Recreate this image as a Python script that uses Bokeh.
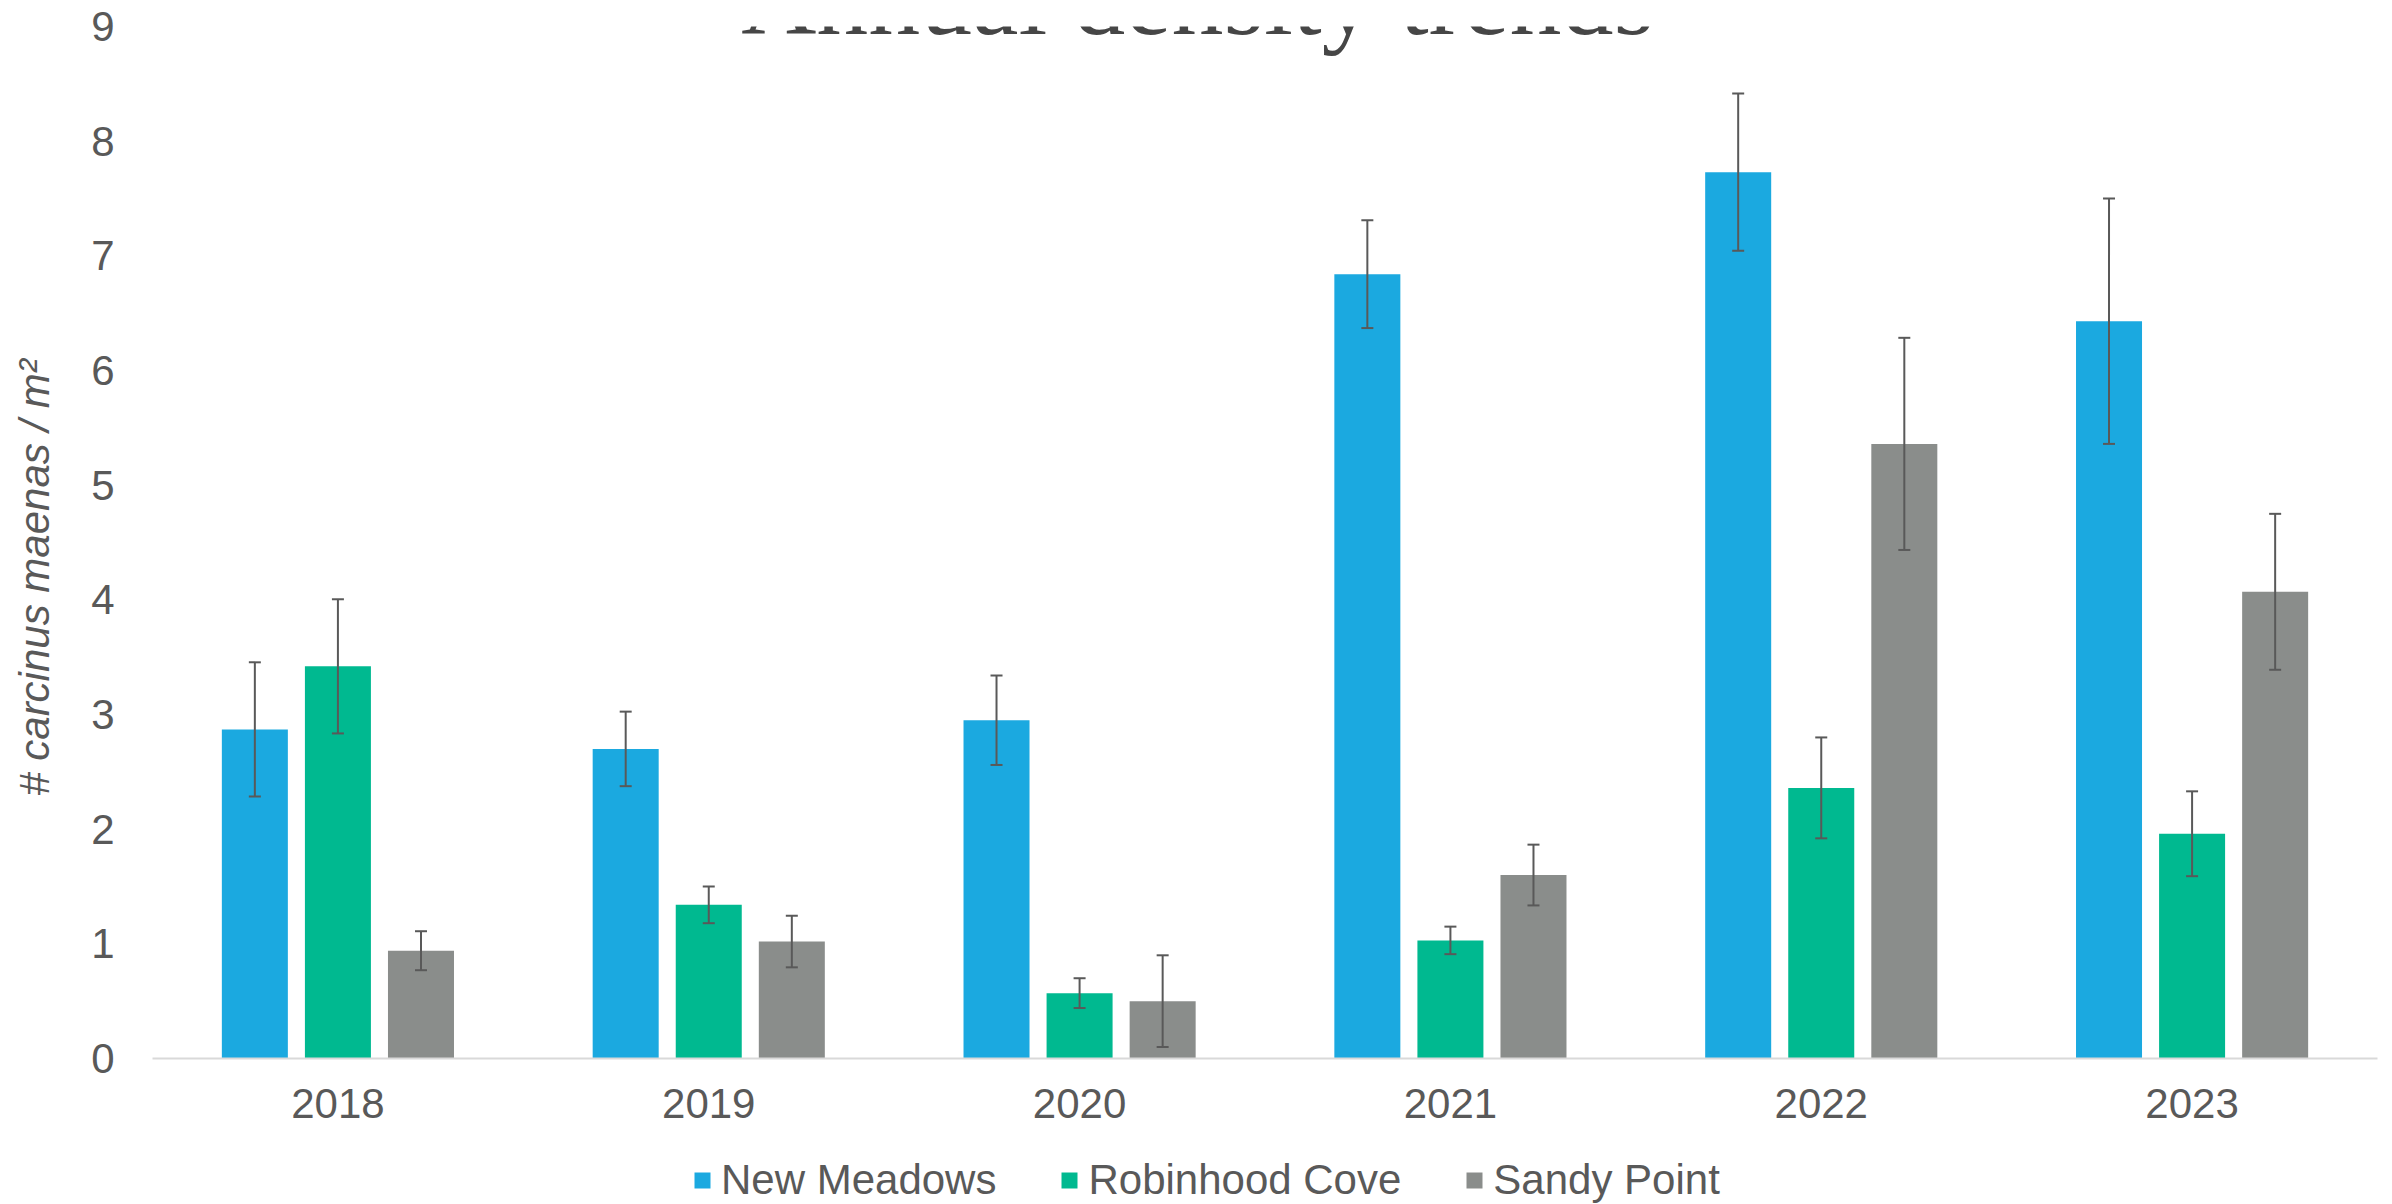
from bokeh.plotting import figure
from bokeh.layouts import column
from bokeh.models import (ColumnDataSource, FactorRange, Range1d, Whisker, TeeHead,
                          Legend, LegendItem, Label, FixedTicker)
from bokeh.transform import dodge
from bokeh.embed import file_html
from bokeh.resources import INLINE

# ---- data ----
years = ["2018", "2019", "2020", "2021", "2022", "2023"]
sites = ["New Meadows", "Robinhood Cove", "Sandy Point"]
new_meadows = [2.87, 2.70, 2.95, 6.84, 7.73, 6.43]
new_meadows_err = [0.585, 0.325, 0.39, 0.47, 0.685, 1.07]
robinhood_cove = [3.42, 1.34, 0.57, 1.03, 2.36, 1.96]
robinhood_cove_err = [0.585, 0.16, 0.13, 0.12, 0.44, 0.37]
sandy_point = [0.94, 1.02, 0.50, 1.60, 5.36, 4.07]
sandy_point_err = [0.17, 0.225, 0.40, 0.265, 0.925, 0.68]
y_ticks = [0, 1, 2, 3, 4, 5, 6, 7, 8, 9]
title_text = "Annual density trends"
y_label = "# carcinus maenas / m\u00b2"

colors = ["#1BA9E0", "#00B990", "#8A8D8B"]
text_color = "#595959"

series = [new_meadows, robinhood_cove, sandy_point]
errors = [new_meadows_err, robinhood_cove_err, sandy_point_err]

data = {"year": years}
for i, (vals, errs) in enumerate(zip(series, errors)):
    data[f"v{i}"] = vals
    data[f"up{i}"] = [v + e for v, e in zip(vals, errs)]
    data[f"lo{i}"] = [v - e for v, e in zip(vals, errs)]
src = ColumnDataSource(data)

W = 2392
H1, H2 = 1144, 60
LEFT, RIGHT, TOP = 152, 15, 26
BOTTOM = H1 - 1058

p = figure(x_range=FactorRange(*years), y_range=Range1d(0, 9),
           width=W, height=H1, output_backend="svg", toolbar_location=None,
           min_border_left=LEFT, min_border_right=RIGHT,
           min_border_top=TOP, min_border_bottom=BOTTOM)
p.outline_line_color = None
p.xgrid.visible = False
p.ygrid.visible = False
p.background_fill_color = "white"

offsets = [-0.224, 0.0, 0.224]
bar_w = 0.178
for i in range(3):
    p.vbar(x=dodge("year", offsets[i], range=p.x_range), top=f"v{i}",
           width=bar_w, source=src, fill_color=colors[i], line_color=None)
    w = Whisker(base=dodge("year", offsets[i], range=p.x_range),
                upper=f"up{i}", lower=f"lo{i}", source=src,
                line_color="#595959", line_width=2, level="overlay",
                upper_head=TeeHead(size=12, line_color="#595959", line_width=2),
                lower_head=TeeHead(size=12, line_color="#595959", line_width=2))
    p.add_layout(w)

# axes
p.yaxis.ticker = FixedTicker(ticks=y_ticks)
p.yaxis.axis_line_color = None
p.yaxis.major_tick_line_color = None
p.yaxis.minor_tick_line_color = None
p.yaxis.major_tick_out = 0
p.yaxis.major_tick_in = 0
p.yaxis.major_label_standoff = 38
p.yaxis.major_label_text_font = "Liberation Sans"
p.yaxis.major_label_text_font_size = "42px"
p.yaxis.major_label_text_color = text_color
# trailing no-break spaces shift the centred label down, as in the reference
p.yaxis.axis_label = y_label + "\u00a0" * 6
p.yaxis.axis_label_text_font = "Liberation Sans"
p.yaxis.axis_label_text_font_style = "italic"
p.yaxis.axis_label_text_font_size = "42px"
p.yaxis.axis_label_text_color = text_color
p.yaxis.axis_label_standoff = 30

p.xaxis.axis_line_color = "#d9d9d9"
p.xaxis.axis_line_width = 2
p.xaxis.major_tick_line_color = None
p.xaxis.minor_tick_line_color = None
p.xaxis.major_tick_out = 0
p.xaxis.major_tick_in = 0
p.xaxis.major_label_standoff = 30
p.xaxis.major_label_text_font = "Liberation Sans"
p.xaxis.major_label_text_font_size = "42px"
p.xaxis.major_label_text_color = text_color

# layout helpers (pixels -> data units)
frame_w = W - LEFT - RIGHT
frame_h = H1 - TOP - BOTTOM
px_per_cat = frame_w / len(years)
px_per_unit = frame_h / 9.0

# title (partly above the canvas, as in the reference)
p.add_layout(Label(x=(1197 - LEFT) / px_per_cat, y=9 + 28 / px_per_unit,
                   text=title_text, text_font="Liberation Serif",
                   text_font_size="104px", text_color="#464646",
                   text_align="center", text_baseline="alphabetic"))

# legend strip below the chart
lg = figure(width=W, height=H2, x_range=Range1d(0, 1), y_range=Range1d(0, 1),
            output_backend="svg", toolbar_location=None,
            x_axis_location=None, y_axis_location=None, min_border=0)
lg.outline_line_color = None
lg.xgrid.visible = False
lg.ygrid.visible = False
proxies = [lg.vbar(x=[-5], top=[-5], bottom=[-6], width=0.1, fill_color=c, line_color=None)
           for c in colors]
legend = Legend(items=[LegendItem(label=s, renderers=[r]) for s, r in zip(sites, proxies)],
                orientation="horizontal", location=(540, 0),
                glyph_width=20, glyph_height=20, label_standoff=9, spacing=63,
                padding=0, margin=0, border_line_color=None,
                background_fill_alpha=0, label_text_font="Liberation Sans",
                label_text_font_size="42px", label_text_color=text_color,
                label_text_baseline="middle")
lg.add_layout(legend)

layout = column(p, lg, spacing=0)
open("out.html", "w").write(file_html(layout, INLINE))
